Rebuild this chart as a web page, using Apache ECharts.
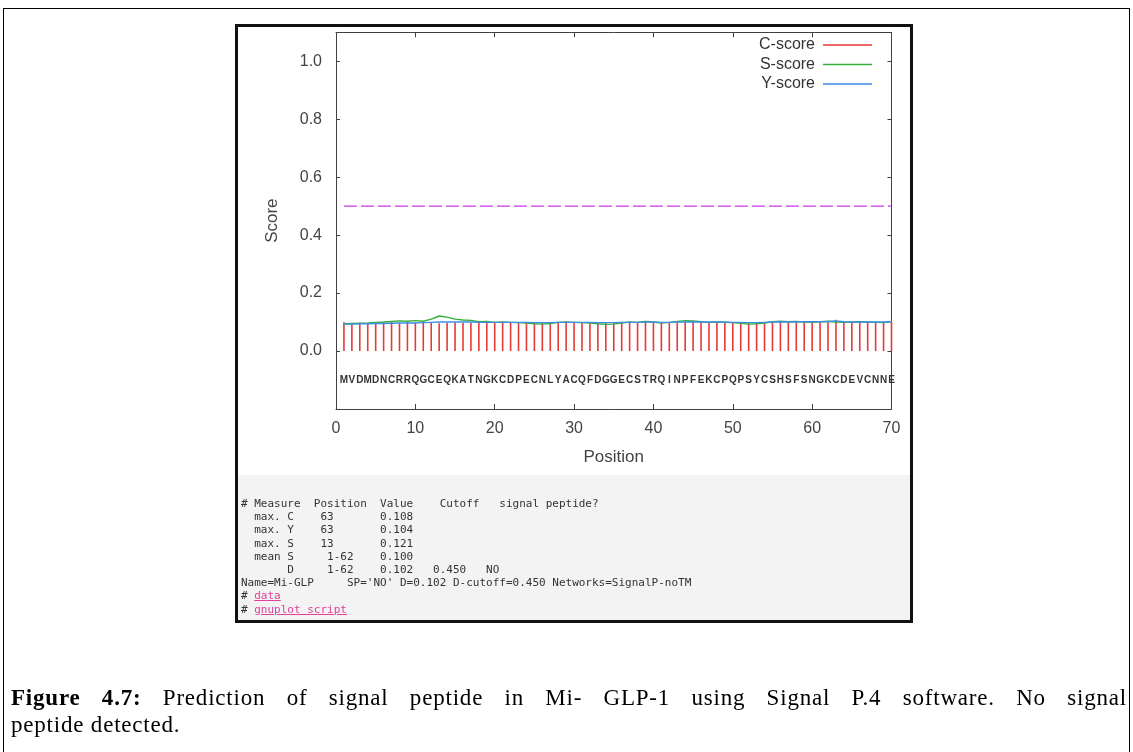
<!DOCTYPE html>
<html>
<head>
<meta charset="utf-8">
<script src="https://cdn.jsdelivr.net/npm/echarts@6/dist/echarts.min.js"></script>
<style>
    html, body {
        margin: 0;
        padding: 0;
        width: 1133px;
        height: 752px;
        background: #fff;
        overflow: hidden;
        position: relative;
    }
    .outer {
        position: absolute;
        left: 3px;
        top: 8px;
        width: 1125px;
        height: 800px;
        border: 1px solid #000;
    }
    .shot {
        position: absolute;
        left: 235px;
        top: 24px;
        width: 678px;
        height: 599px;
        box-sizing: border-box;
        border: 3px solid #111;
        background: #f3f3f3;
    }
    .plot-bg {
        position: absolute;
        left: 238px;
        top: 27px;
        width: 672px;
        height: 448px;
        background: #fff;
    }
    #chart {
        position: absolute;
        left: 0;
        top: 0;
        width: 1133px;
        height: 752px;
    }
    .stats {
        position: absolute;
        left: 241px;
        top: 497px;
        margin: 0;
        font-family: "DejaVu Sans Mono", monospace;
        font-size: 11px;
        line-height: 13.2px;
        color: #333;
    }
    .stats a {
        color: #e0409a;
        text-decoration: underline;
    }
    .caption {
        position: absolute;
        left: 11px;
        top: 684px;
        width: 1116px;
        font-family: "Liberation Serif", serif;
        font-size: 23px;
        letter-spacing: 0.8px;
        line-height: 27px;
        color: #000;
    }
    .caption .l1 {
        text-align: justify;
        text-align-last: justify;
    }
</style>
</head>
<body>
<div class="outer"></div>
<div class="shot"></div>
<div class="plot-bg"></div>
<div id="chart"></div>
<pre class="stats"># Measure  Position  Value    Cutoff   signal peptide?
  max. C    63       0.108
  max. Y    63       0.104
  max. S    13       0.121
  mean S     1-62    0.100
       D     1-62    0.102   0.450   NO
Name=Mi-GLP     SP='NO' D=0.102 D-cutoff=0.450 Networks=SignalP-noTM
# <a>data</a>
# <a>gnuplot script</a></pre>
<div class="caption">
    <div class="l1"><b>Figure 4.7:</b> Prediction of signal peptide in Mi- GLP-1 using Signal P.4 software. No signal</div>
    <div>peptide detected.</div>
</div>

<script>
// residues of Mi-GLP, position 1..70
const sequence = 'MVDMDNCRRQGCEQKATNGKCDPECNLYACQFDGGECSTRQINPFEKCPQPSYCSHSFSNGKCDEVCNNE'.split('');

// scores
const cScore = [
    0.099, 0.096, 0.098, 0.097, 0.100, 0.099, 0.101, 0.097, 0.100, 0.098,
    0.097, 0.099, 0.096, 0.098, 0.099, 0.097, 0.098, 0.100, 0.099, 0.101,
    0.099, 0.097, 0.100, 0.098, 0.096, 0.099, 0.097, 0.100, 0.101, 0.098,
    0.099, 0.097, 0.100, 0.098, 0.099, 0.101, 0.097, 0.100, 0.102, 0.098,
    0.100, 0.097, 0.099, 0.101, 0.103, 0.100, 0.098, 0.101, 0.099, 0.100,
    0.098, 0.099, 0.097, 0.096, 0.100, 0.102, 0.099, 0.101, 0.102, 0.100,
    0.103, 0.101, 0.108, 0.100, 0.099, 0.100, 0.101, 0.099, 0.100, 0.101
];
const sScore = [
    0.094, 0.095, 0.096, 0.097, 0.099, 0.100, 0.102, 0.104, 0.103, 0.105,
    0.103, 0.110, 0.121, 0.117, 0.110, 0.107, 0.106, 0.101, 0.102, 0.099,
    0.100, 0.099, 0.098, 0.097, 0.094, 0.093, 0.095, 0.099, 0.100, 0.099,
    0.098, 0.097, 0.094, 0.092, 0.093, 0.097, 0.100, 0.099, 0.102, 0.100,
    0.097, 0.099, 0.102, 0.105, 0.104, 0.101, 0.099, 0.100, 0.099, 0.098,
    0.096, 0.093, 0.094, 0.097, 0.101, 0.103, 0.101, 0.102, 0.100, 0.099,
    0.101, 0.103, 0.100, 0.099, 0.100, 0.101, 0.100, 0.099, 0.098, 0.102
];
const yScore = [
    0.093, 0.093, 0.094, 0.094, 0.095, 0.095, 0.096, 0.097, 0.097, 0.097,
    0.098, 0.099, 0.100, 0.100, 0.100, 0.100, 0.100, 0.099, 0.099, 0.099,
    0.099, 0.099, 0.099, 0.099, 0.098, 0.098, 0.098, 0.099, 0.099, 0.099,
    0.099, 0.099, 0.098, 0.098, 0.098, 0.099, 0.099, 0.099, 0.100, 0.100,
    0.099, 0.099, 0.100, 0.100, 0.101, 0.100, 0.100, 0.100, 0.100, 0.099,
    0.099, 0.098, 0.098, 0.099, 0.100, 0.101, 0.100, 0.101, 0.101, 0.101,
    0.101, 0.102, 0.104, 0.101, 0.100, 0.100, 0.100, 0.100, 0.100, 0.101
];
const cutoff = 0.5;
const seqLabelY = -0.1;

const xTickMin = 0, xTickMax = 70, xTickStep = 10;
const yTickMin = -0.2, yTickMax = 1.1, yTickStep = 0.2;

const colors = {
    c: '#e63a36',
    s: '#34b038',
    y: '#3b8ee8',
    cut: '#c43ae4',
    axis: '#404040',
    text: '#444'
};

const pos = sequence.map((_, i) => i + 1);
const pair = arr => pos.map((p, i) => [p, arr[i]]);

const chart = echarts.init(document.getElementById('chart'), null, { renderer: 'canvas' });

const baseFont = 'Liberation Sans, Arial, sans-serif';
const frameLine = { show: true, onZero: false, lineStyle: { color: colors.axis, width: 1 } };

chart.setOption({
    animation: false,
    backgroundColor: 'transparent',
    textStyle: { fontFamily: baseFont },
    grid: { left: 336, right: 241.5, top: 32.3, bottom: 343 },
    legend: {
        data: ['C-score', 'S-score', 'Y-score'],
        orient: 'vertical',
        right: 256,
        top: 32,
        align: 'right',
        icon: 'rect',
        itemWidth: 49,
        itemHeight: 1.5,
        itemGap: 3.5,
        textStyle: { fontSize: 16, color: '#333', fontFamily: baseFont, padding: [0, 3, 0, 0] }
    },
    xAxis: [
        {
            type: 'value',
            min: xTickMin,
            max: xTickMax,
            interval: xTickStep,
            axisLine: frameLine,
            axisTick: { show: true, inside: true, length: 5, lineStyle: { color: colors.axis } },
            splitLine: { show: false },
            axisLabel: { fontSize: 16, color: colors.text, margin: 12 },
            name: 'Position',
            nameLocation: 'middle',
            nameGap: 40,
            nameTextStyle: { fontSize: 17, color: colors.text }
        },
        {
            type: 'value',
            position: 'top',
            min: xTickMin,
            max: xTickMax,
            interval: xTickStep,
            axisLine: frameLine,
            axisTick: { show: true, inside: true, length: 5, lineStyle: { color: colors.axis } },
            splitLine: { show: false },
            axisLabel: { show: false }
        }
    ],
    yAxis: [
        {
            type: 'value',
            min: yTickMin,
            max: yTickMax,
            interval: yTickStep,
            axisLine: frameLine,
            axisTick: { show: true, inside: true, length: 4, lineStyle: { color: colors.axis } },
            splitLine: { show: false },
            axisLabel: {
                fontSize: 16,
                color: colors.text,
                margin: 14,
                showMinLabel: false,
                showMaxLabel: false,
                formatter: v => v.toFixed(1)
            },
            name: 'Score',
            nameLocation: 'middle',
            nameGap: 55,
            nameRotate: 90,
            nameTextStyle: { fontSize: 17, color: colors.text }
        },
        {
            type: 'value',
            position: 'right',
            min: yTickMin,
            max: yTickMax,
            interval: yTickStep,
            axisLine: frameLine,
            axisTick: { show: true, inside: true, length: 4, lineStyle: { color: colors.axis } },
            splitLine: { show: false },
            axisLabel: { show: false }
        }
    ],
    series: [
        {
            name: 'Cutoff',
            type: 'line',
            data: [[pos[0], cutoff], [pos[pos.length - 1], cutoff]],
            symbol: 'none',
            silent: true,
            lineStyle: { color: colors.cut, width: 1.3, type: [13, 4] },
            z: 2
        },
        {
            name: 'C-score',
            type: 'custom',
            data: pair(cScore),
            itemStyle: { color: colors.c },
            renderItem: (params, api) => {
                const top = api.coord([api.value(0), api.value(1)]);
                const base = api.coord([api.value(0), 0]);
                return {
                    type: 'line',
                    shape: { x1: base[0], y1: base[1], x2: top[0], y2: top[1] },
                    style: { stroke: colors.c, lineWidth: 1.6 }
                };
            },
            z: 3
        },
        {
            name: 'S-score',
            type: 'line',
            data: pair(sScore),
            symbol: 'none',
            itemStyle: { color: colors.s },
            lineStyle: { color: colors.s, width: 1.4 },
            z: 4
        },
        {
            name: 'Y-score',
            type: 'line',
            data: pair(yScore),
            symbol: 'none',
            itemStyle: { color: colors.y },
            lineStyle: { color: colors.y, width: 1.4 },
            z: 5
        },
        {
            name: 'Sequence',
            type: 'custom',
            silent: true,
            data: sequence.map((aa, i) => [pos[i], seqLabelY, aa]),
            renderItem: (params, api) => {
                const p = api.coord([api.value(0), api.value(1)]);
                return {
                    type: 'text',
                    x: p[0],
                    y: p[1],
                    style: {
                        text: sequence[params.dataIndex],
                        fontSize: 10,
                        fontWeight: 'bold',
                        fontFamily: baseFont,
                        fill: '#333',
                        align: 'center',
                        verticalAlign: 'middle'
                    }
                };
            },
            z: 6
        }
    ]
});
</script>
</body>
</html>
